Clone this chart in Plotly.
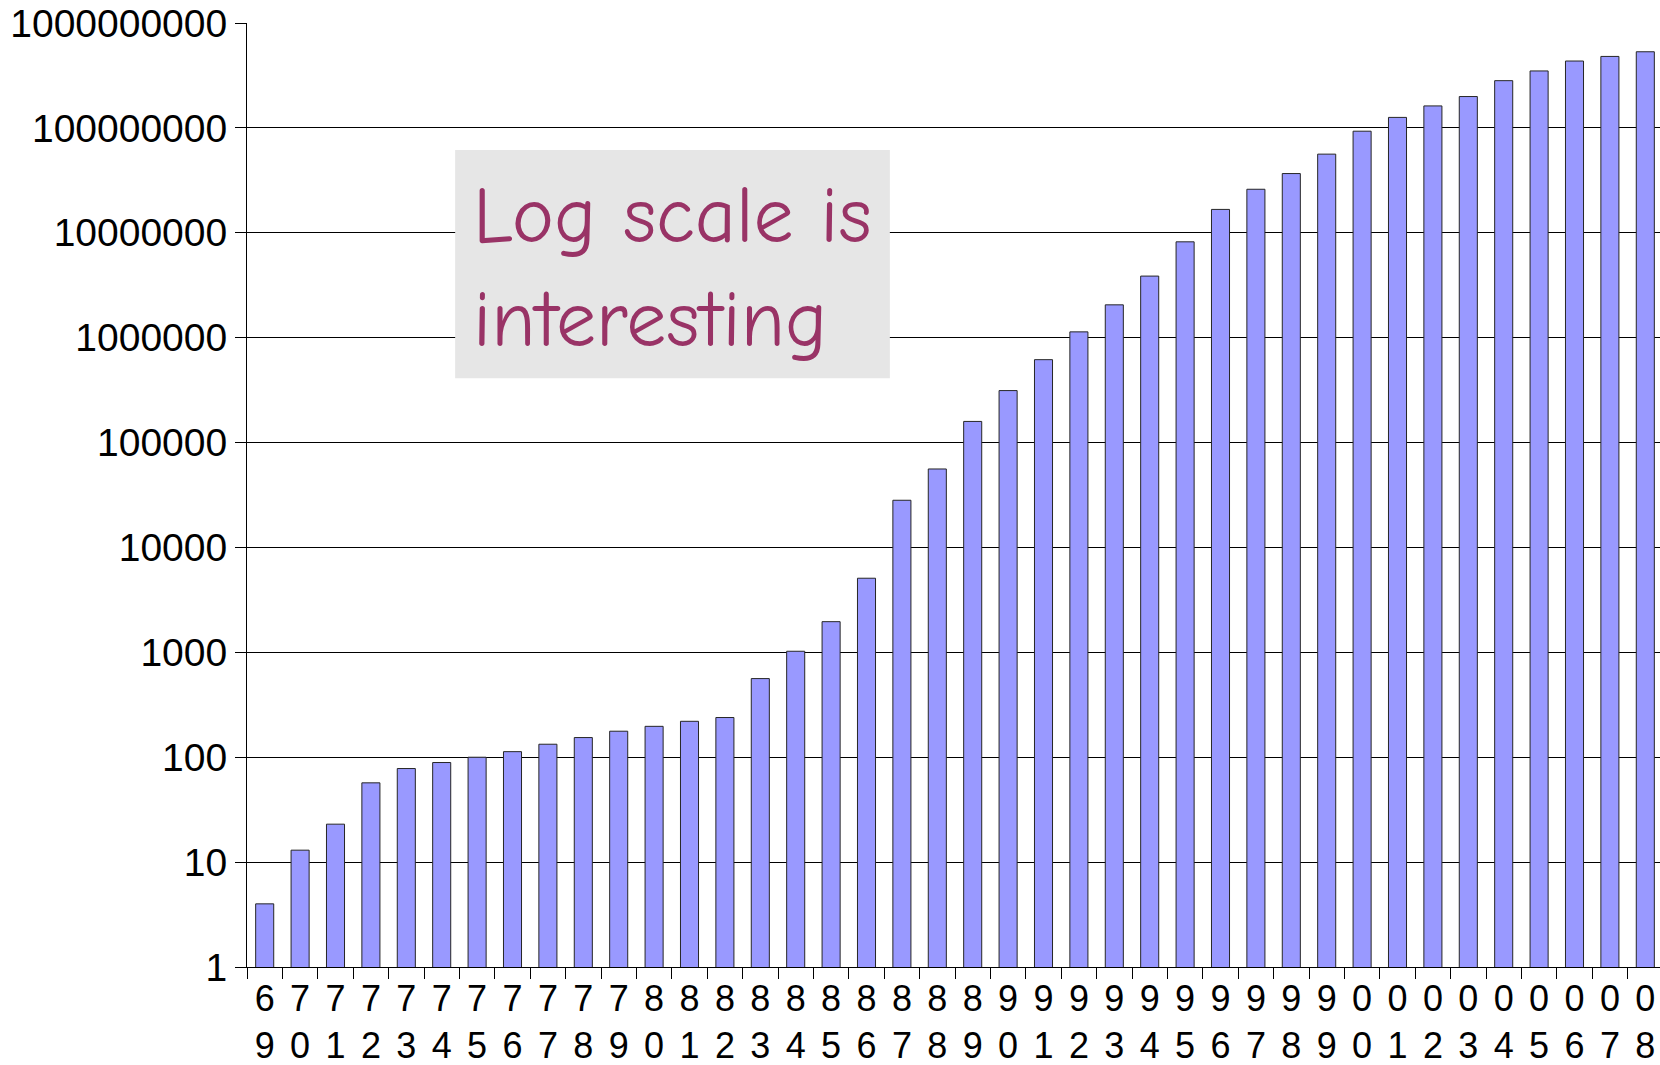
import plotly.graph_objects as go

# Data
years = ["69", "70", "71", "72", "73", "74", "75", "76", "77", "78",
         "79", "80", "81", "82", "83", "84", "85", "86", "87", "88",
         "89", "90", "91", "92", "93", "94", "95", "96", "97", "98",
         "99", "00", "01", "02", "03", "04", "05", "06", "07", "08"]
hosts = [4, 13, 23, 57, 78, 89, 100, 113, 133, 154,
         177, 197, 220, 239, 562, 1024, 1961, 5089, 28174, 56000,
         159000, 313000, 617000, 1136000, 2056000, 3864000, 8200000, 16700000, 26000000, 36700000,
         56200000, 93000000, 125900000, 162000000, 199000000, 282000000, 349000000, 434000000, 480000000, 532000000]
y_tick_values = [1, 10, 100, 1000, 10000, 100000, 1000000, 10000000, 100000000, 1000000000]
y_tick_labels = [str(v) for v in y_tick_values]
x_tick_labels = [y[0] + "<br>" + y[1] for y in years]
note_text = "Log scale is<br>interesting"

fig = go.Figure()
fig.add_trace(go.Bar(
    x=years, y=hosts,
    width=0.51,
    marker=dict(color="#9999FF", line=dict(color="#262626", width=1)),
    showlegend=False,
))

font_y = dict(family="Liberation Sans, Arial, sans-serif", size=39, color="#000000")
font_x = dict(family="Liberation Sans, Arial, sans-serif", size=36, color="#000000")

fig.update_layout(
    width=1663, height=1065,
    margin=dict(l=247, r=0, t=23, b=98),
    paper_bgcolor="#FFFFFF", plot_bgcolor="#FFFFFF",
    bargap=0.49,
    xaxis=dict(
        type="category",
        tickmode="array", tickvals=years, ticktext=x_tick_labels,
        tickson="boundaries", ticks="outside", ticklen=11, tickwidth=1, tickcolor="#000000",
        showline=True, linecolor="#000000", linewidth=1,
        showgrid=False, tickfont=font_x, tickangle=0,
        ticklabelstandoff=0, automargin=False,
    ),
    yaxis=dict(
        type="log", range=[0, 9],
        tickmode="array", tickvals=y_tick_values, ticktext=y_tick_labels,
        ticks="outside", ticklen=11, tickwidth=1, tickcolor="#000000",
        showline=True, linecolor="#000000", linewidth=1,
        showgrid=True, gridcolor="#000000", gridwidth=1,
        zeroline=False, tickfont=font_y, automargin=False,
    ),
    shapes=[dict(type="rect", xref="paper", yref="paper",
                 x0=0.147, x1=0.454, y0=0.6237, y1=0.8654,
                 fillcolor="#E6E6E6", line=dict(width=0), layer="above")],
    annotations=[dict(xref="paper", yref="paper", x=0.158, y=0.74,
                      xanchor="left", yanchor="middle", align="left",
                      text=note_text, showarrow=False,
                      font=dict(family="Comic Sans MS, Comic Neue, Noto Sans, sans-serif",
                                size=80, color="#993366"))],
)

fig.write_html("out.html",
               config={"displayModeBar": False},
               post_script="document.body.style.margin='0';document.body.style.overflow='hidden';")
